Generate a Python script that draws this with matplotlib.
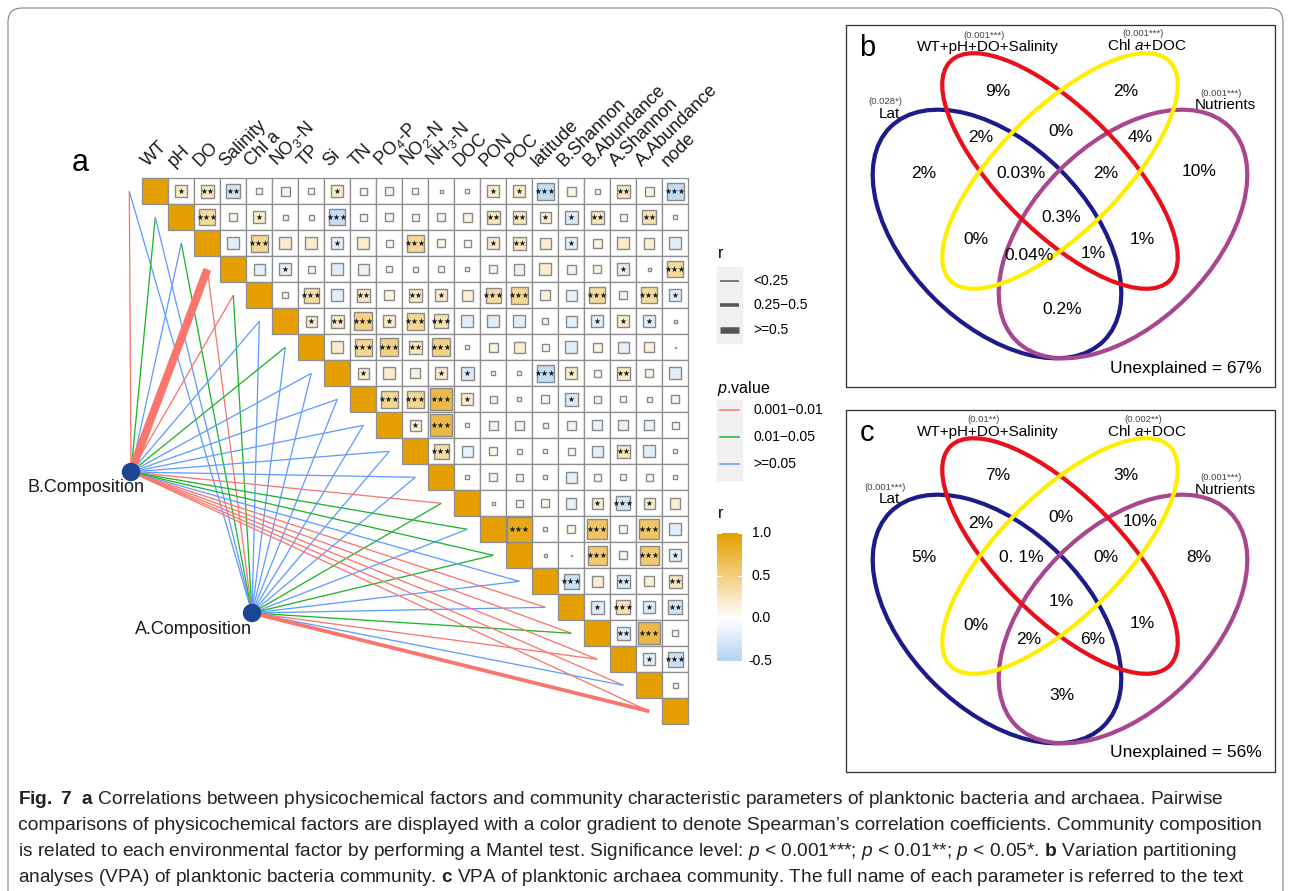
#!/usr/bin/env python3
"""Fig. 7: Mantel-test correlation heatmap (a) and VPA Venn diagrams (b, c)."""

import matplotlib
matplotlib.use("Agg")
import matplotlib.pyplot as plt
import numpy as np
from matplotlib.colors import LinearSegmentedColormap, TwoSlopeNorm
from matplotlib.patches import Circle, Ellipse, FancyBboxPatch, Rectangle

plt.rcParams["font.family"] = ["Liberation Sans", "DejaVu Sans"]
plt.rcParams["mathtext.fontset"] = "custom"
plt.rcParams["mathtext.rm"] = "Liberation Sans"
plt.rcParams["mathtext.it"] = "Liberation Sans:italic"
plt.rcParams["mathtext.bf"] = "Liberation Sans:bold"
plt.rcParams["mathtext.default"] = "regular"

# ---- panel a data -------------------------------------------------------
VARIABLES = ["WT", "pH", "DO", "Salinity", "Chl a", "NO$_3$-N", "TP", "Si", "TN",
             "PO$_4$-P", "NO$_2$-N", "NH$_3$-N", "DOC", "PON", "POC", "latitude",
             "B.Shannon", "B.Abundance", "A.Shannon", "A.Abundance", "node"]

# Spearman r, upper triangle, row i holds columns i+1 .. end
CORR_ROWS = [
    [0.2, 0.25, -0.3, 0.06, -0.12, 0.06, 0.2, 0.08, -0.09, 0.06, 0.015, 0.02, 0.2, 0.2, -0.42, 0.12, 0.04, 0.25, 0.12, -0.42],
    [0.38, 0.09, 0.2, 0.04, 0.04, -0.38, 0.08, -0.09, 0.08, -0.09, 0.12, 0.25, 0.25, 0.18, -0.25, 0.25, 0.08, 0.3, 0.02],
    [-0.2, 0.42, 0.2, 0.2, -0.2, 0.2, 0.08, 0.42, 0.09, 0.08, 0.2, 0.25, 0.18, -0.2, 0.12, 0.2, 0.16, -0.2],
    [-0.18, -0.2, 0.08, -0.2, -0.16, 0.06, 0.03, 0.06, 0.02, -0.09, -0.16, 0.2, -0.12, 0.09, -0.2, 0.015, 0.38],
    [0.06, 0.36, -0.2, 0.25, 0.14, 0.25, 0.2, 0.18, 0.36, 0.42, 0.14, -0.18, 0.38, 0.09, 0.38, -0.2],
    [0.18, 0.23, 0.49, 0.2, 0.42, 0.3, -0.2, -0.2, -0.2, 0.05, -0.18, -0.2, 0.2, -0.2, 0.015],
    [0.2, 0.42, 0.49, 0.25, 0.49, 0.02, 0.12, 0.18, 0.08, -0.2, 0.12, -0.18, 0.14, 0.003],
    [0.18, 0.2, 0.14, 0.2, -0.25, 0.02, 0.02, -0.42, 0.2, 0.08, 0.23, 0.09, -0.2],
    [0.42, 0.42, 0.72, 0.2, 0.08, 0.02, 0.1, -0.25, 0.08, 0.06, 0.04, 0.09],
    [0.16, 0.72, 0.02, -0.12, -0.12, 0.04, -0.12, -0.14, -0.14, -0.14, 0.08],
    [0.36, -0.16, 0.09, 0.04, 0.02, 0.08, -0.18, 0.25, -0.2, 0.02],
    [0.02, 0.09, 0.08, 0.02, -0.18, 0.08, 0.05, 0.08, 0.02],
    [0.015, 0.08, 0.1, -0.16, 0.18, -0.3, 0.18, 0.16],
    [0.9, 0.02, 0.09, 0.6, 0.09, 0.6, -0.2],
    [0.015, 0.003, 0.56, 0.1, 0.56, -0.2],
    [-0.36, 0.18, -0.25, 0.16, 0.25],
    [-0.23, 0.3, -0.2, -0.3],
    [-0.25, 0.72, 0.06],
    [-0.2, -0.36],
    [0.04],
]
# number of significance stars for the same cells
STAR_ROWS = [
    [1, 2, 2, 0, 0, 0, 1, 0, 0, 0, 0, 0, 1, 1, 3, 0, 0, 2, 0, 3],
    [3, 0, 1, 0, 0, 3, 0, 0, 0, 0, 0, 2, 2, 1, 1, 2, 0, 2, 0],
    [0, 3, 0, 0, 1, 0, 0, 3, 0, 0, 1, 2, 0, 1, 0, 0, 0, 0],
    [0, 1, 0, 0, 0, 0, 0, 0, 0, 0, 0, 0, 0, 0, 1, 0, 3],
    [0, 3, 0, 2, 0, 2, 1, 0, 3, 3, 0, 0, 3, 0, 3, 1],
    [1, 2, 3, 1, 3, 3, 0, 0, 0, 0, 0, 1, 1, 1, 0],
    [0, 3, 3, 2, 3, 0, 0, 0, 0, 0, 0, 0, 0, 0],
    [1, 0, 0, 1, 1, 0, 0, 3, 1, 0, 2, 0, 0],
    [3, 3, 3, 1, 0, 0, 0, 1, 0, 0, 0, 0],
    [1, 3, 0, 0, 0, 0, 0, 0, 0, 0, 0],
    [3, 0, 0, 0, 0, 0, 0, 2, 0, 0],
    [0, 0, 0, 0, 0, 0, 0, 0, 0],
    [0, 0, 0, 0, 1, 3, 1, 0],
    [3, 0, 0, 3, 0, 3, 0],
    [0, 0, 3, 0, 3, 1],
    [3, 0, 2, 0, 2],
    [1, 3, 1, 2],
    [2, 3, 0],
    [1, 3],
    [0],
]

# Mantel test links: p class (0: 0.001-0.01, 1: 0.01-0.05, 2: >=0.05), r class (0: <0.25, 1: 0.25-0.5, 2: >=0.5)
MANTEL_B_P = [0, 1, 2, 0, 0, 2, 1, 2, 2, 2, 2, 2, 0, 1, 1, 2, 0, 0, 0, 0, 0]
MANTEL_A_P = [2, 2, 1, 0, 1, 2, 2, 2, 2, 2, 2, 2, 1, 2, 1, 2, 2, 1, 0, 2, 0]
MANTEL_B_R = [0, 0, 0, 2, 0, 0, 0, 0, 0, 0, 0, 0, 0, 0, 0, 0, 0, 0, 0, 0, 0]
MANTEL_A_R = [0, 0, 0, 0, 0, 0, 0, 0, 0, 0, 0, 0, 0, 0, 0, 0, 0, 0, 0, 0, 1]
P_LABELS = ["0.001\u22120.01", "0.01\u22120.05", ">=0.05"]
R_LABELS = ["<0.25", "0.25\u22120.5", ">=0.5"]
P_COLORS = ["#F8766D", "#1DB32B", "#619CFF"]

# ---- panels b/c data ----------------------------------------------------
SET_NAMES = ["WT+pH+DO+Salinity", "Chl $\\mathit{a}$+DOC", "Lat", "Nutrients"]
VPA_B_P = ["(0.001***)", "(0.001***)", "(0.028*)", "(0.001***)"]
VPA_C_P = ["(0.01**)", "(0.002**)", "(0.001***)", "(0.001***)"]
VPA_B_PCT = ["9%", "2%", "2%", "0%", "4%", "2%", "0.03%", "2%", "10%", "0.3%", "0%", "0.04%", "1%", "1%", "0.2%"]
VPA_C_PCT = ["7%", "3%", "2%", "0%", "10%", "5%", "0. 1%", "0%", "8%", "1%", "0%", "2%", "6%", "1%", "3%"]
VPA_B_UNEXPLAINED = 67
VPA_C_UNEXPLAINED = 56

CAPTION = [
    r"$\mathbf{Fig.\ 7}$  $\mathbf{a}$ Correlations between physicochemical factors and community characteristic parameters of planktonic bacteria and archaea. Pairwise",
    "comparisons of physicochemical factors are displayed with a color gradient to denote Spearman\u2019s correlation coefficients. Community composition",
    r"is related to each environmental factor by performing a Mantel test. Significance level: $\mathit{p}$ < 0.001***; $\mathit{p}$ < 0.01**; $\mathit{p}$ < 0.05*. $\mathbf{b}$ Variation partitioning",
    r"analyses (VPA) of planktonic bacteria community. $\mathbf{c}$ VPA of planktonic archaea community. The full name of each parameter is referred to the text",
]

PT = 0.72  # points per pixel at dpi 100
CELL = 26.0
X0, Y0 = 142.3, 178.3
NODE_B = (131.0, 472.0)
NODE_A = (252.0, 613.0)


def draw_heatmap(ax, cmap, norm):
    n = len(VARIABLES)
    for i in range(n):
        for j in range(i, n):
            x, y = X0 + CELL * j, Y0 + CELL * i
            face = "#E69F00" if i == j else "white"
            ax.add_patch(Rectangle((x, y), CELL, CELL, facecolor=face, edgecolor="#8f8f8f",
                                   lw=1.3 * PT, zorder=2))
        if i == n - 1:
            continue
        for k, (r, s) in enumerate(zip(CORR_ROWS[i], STAR_ROWS[i])):
            j = i + 1 + k
            cx, cy = X0 + CELL * (j + 0.5), Y0 + CELL * (i + 0.5)
            side = CELL * min(np.sqrt(abs(r)), 0.95)
            ax.add_patch(Rectangle((cx - side / 2, cy - side / 2), side, side, facecolor=cmap(norm(r)),
                                   edgecolor="#8a8a8a", lw=1.4 * PT, zorder=3))
            if s:
                ax.text(cx, cy + 0.5, "\u2605" * s, ha="center", va="center", fontsize=5.6,
                        family="DejaVu Sans", color="#1a1a1a", zorder=4)
    for j, name in enumerate(VARIABLES):
        ax.text(X0 + CELL * (j + 0.5) - 5, Y0 - 8, name, rotation=45, rotation_mode="anchor",
                ha="left", va="bottom", fontsize=13, color="#1a1a1a")


def draw_mantel(ax):
    widths = [1.3, 3.8, 8.0]
    for i in range(len(VARIABLES)):
        end = (X0 + CELL * (i - 0.5), Y0 + CELL * (i + 0.5))
        for node, pcls, rcls in ((NODE_B, MANTEL_B_P, MANTEL_B_R), (NODE_A, MANTEL_A_P, MANTEL_A_R)):
            ax.plot([node[0], end[0]], [node[1], end[1]], color=P_COLORS[pcls[i]],
                    lw=widths[rcls[i]] * PT, solid_capstyle="butt", zorder=1 + 0.1 * rcls[i])
    for node, label, (lx, ly) in ((NODE_B, "B.Composition", (86, 488)), (NODE_A, "A.Composition", (193, 630))):
        ax.add_patch(Circle(node, 8.5, color="#1C4594", zorder=5))
        ax.text(lx, ly, label, ha="center", va="center", fontsize=13, color="#1a1a1a")
    ax.text(80, 163, "a", ha="center", va="center", fontsize=22)


def draw_legends(ax, cmap, norm):
    lx = 717
    ax.text(lx + 1, 253, "r", ha="left", va="center", fontsize=11.5)
    ax.add_patch(Rectangle((lx, 267), 25, 76, color="#F0F0F0", zorder=1))
    for k, (y, w) in enumerate(zip([281, 305, 330], [1.5, 3.5, 6.5])):
        ax.plot([lx + 3, lx + 22], [y, y], color="#555555", lw=w * PT, solid_capstyle="butt")
        ax.text(lx + 36, y, R_LABELS[k], ha="left", va="center", fontsize=10)
    ax.text(lx, 388, "$\\mathit{p}$.value", ha="left", va="center", fontsize=11.5)
    ax.add_patch(Rectangle((lx, 400), 25, 80, color="#F0F0F0", zorder=1))
    for k, y in enumerate([410, 437, 464]):
        ax.plot([lx + 3, lx + 22], [y, y], color=P_COLORS[k], lw=1.5 * PT)
        ax.text(lx + 36, y, P_LABELS[k], ha="left", va="center", fontsize=10)
    ax.text(lx + 1, 513, "r", ha="left", va="center", fontsize=11.5)
    top, bottom = 533.0, 661.0
    grad = np.linspace(-0.5, 1.0, 200).reshape(-1, 1)
    ax.imshow(norm(grad), cmap=cmap, vmin=0, vmax=1, origin="lower", aspect="auto",
              extent=[lx, lx + 25, bottom, top], zorder=1)
    for v in [1.0, 0.5, 0.0, -0.5]:
        y = bottom - (v + 0.5) / 1.5 * (bottom - top)
        ax.plot([lx, lx + 4], [y, y], color="white", lw=0.8)
        ax.plot([lx + 21, lx + 25], [y, y], color="white", lw=0.8)
        ax.text(lx + 35 if v >= 0 else lx + 31, y, f"{v:.1f}", ha="left", va="center", fontsize=10)


def draw_venn(ax, top, letter, pvals, pcts, unexplained):
    region_xy = [(998, 66), (1126, 66), (981, 113), (1061, 107), (1140, 112), (924, 148), (1021, 148),
                 (1106, 148), (1199, 147), (1061, 192), (976, 215), (1029, 230), (1093, 229), (1142, 214),
                 (1062, 285)]
    ax.add_patch(Rectangle((846, top), 429, 362, fill=False, edgecolor="#333333", lw=1.3 * PT))
    shapes = [((997, 209), 302, 180, 45, "#1B1B8A"),   # Lat
              ((1123, 209), 302, 180, -45, "#A8478F"),  # Nutrients
              ((1060, 146), 310, 122, 45, "#E8101A"),   # WT+pH+DO+Salinity
              ((1060, 146), 310, 122, -45, "#FFEE00")]  # Chl a+DOC
    for (cx, cy), w, h, ang, col in shapes:
        ax.add_patch(Ellipse((cx, cy + top), w, h, angle=ang, fill=False, edgecolor=col, lw=4.2 * PT))
    ax.text(867, top + 23, letter, ha="center", va="center", fontsize=21)
    set_xy = [(988, 22), (1147, 21), (889, 89), (1225, 80)]
    for (x, y), name, p in zip(set_xy, SET_NAMES, pvals):
        ax.text(x, top + y, name, ha="center", va="center", fontsize=11)
        ax.text(x - 4, top + y - 12, p, ha="center", va="center", fontsize=6.8, color="#444444")
    for (x, y), t in zip(region_xy, pcts):
        ax.text(x, top + y, t, ha="center", va="center", fontsize=12.5)
    ax.text(1186, top + 343, f"Unexplained = {unexplained}%", ha="center", va="center", fontsize=12.5)


def draw_caption(fig, ax):
    texts = [ax.text(18, 800 + 25.8 * k, line, ha="left", va="center", fontsize=14,
                     family=["Liberation Sans Narrow", "Liberation Sans"], color="#222222")
             for k, line in enumerate(CAPTION)]
    fig.canvas.draw()
    renderer = fig.canvas.get_renderer()
    for t, right in zip(texts, [1228, 1274, 1245, 1251]):
        w = t.get_window_extent(renderer).width
        t.set_fontsize(t.get_fontsize() * (right - 18) / w)


def main() -> None:
    fig = plt.figure(figsize=(12.9, 8.91), dpi=100)
    ax = fig.add_axes([0, 0, 1, 1])
    cmap = LinearSegmentedColormap.from_list("rwo", ["#B5D5F2", "#FFFFFF", "#E69F00"])
    norm = TwoSlopeNorm(vmin=-0.5, vcenter=0.0, vmax=1.0)

    ax.add_patch(FancyBboxPatch((8, 8), 1275, 900, boxstyle="round,pad=0,rounding_size=14",
                                fill=False, edgecolor="#777777", lw=1.0 * PT))
    draw_mantel(ax)
    draw_heatmap(ax, cmap, norm)
    draw_legends(ax, cmap, norm)
    draw_venn(ax, 25, "b", VPA_B_P, VPA_B_PCT, VPA_B_UNEXPLAINED)
    draw_venn(ax, 410, "c", VPA_C_P, VPA_C_PCT, VPA_C_UNEXPLAINED)

    ax.set_xlim(0, 1290)
    ax.set_ylim(891, 0)
    ax.set_aspect("auto")
    ax.axis("off")
    draw_caption(fig, ax)
    fig.savefig("out.png", dpi=100, facecolor="white")
    plt.close(fig)


if __name__ == "__main__":
    main()
